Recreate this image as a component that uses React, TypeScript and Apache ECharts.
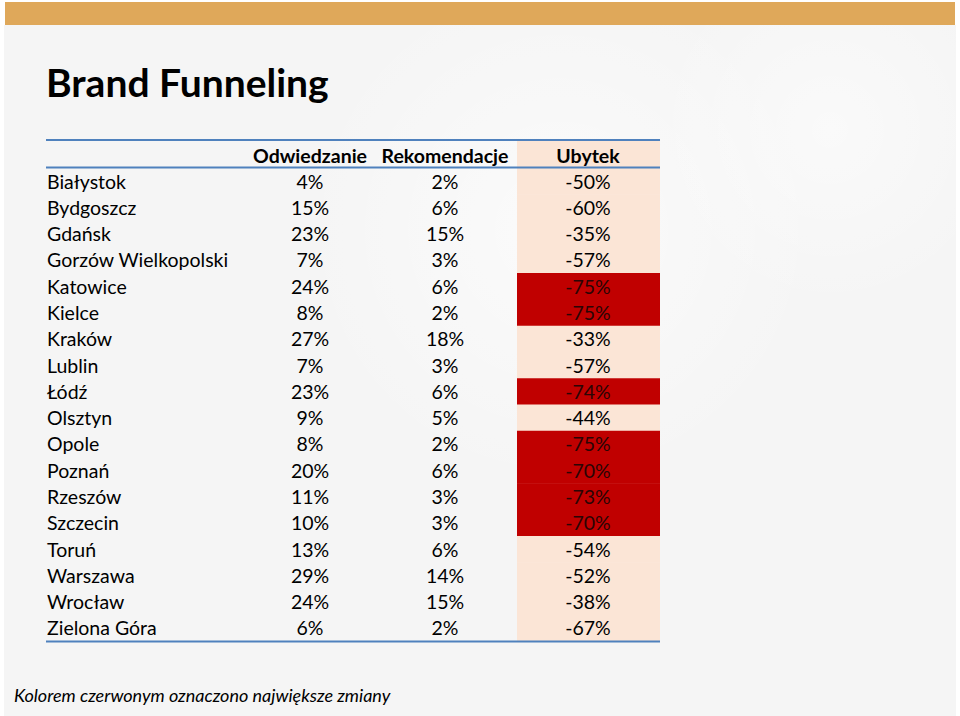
import React, { useEffect, useRef } from "react";
import * as echarts from "echarts";

const cities = [
  "Białystok", "Bydgoszcz", "Gdańsk", "Gorzów Wielkopolski", "Katowice", "Kielce",
  "Kraków", "Lublin", "Łódź", "Olsztyn", "Opole", "Poznań", "Rzeszów", "Szczecin",
  "Toruń", "Warszawa", "Wrocław", "Zielona Góra",
];
const odwiedzanie = [4, 15, 23, 7, 24, 8, 27, 7, 23, 9, 8, 20, 11, 10, 13, 29, 24, 6];
const rekomendacje = [2, 6, 15, 3, 6, 2, 18, 3, 6, 5, 2, 6, 3, 3, 6, 14, 15, 2];
const ubytek = [-50, -60, -35, -57, -75, -75, -33, -57, -74, -44, -75, -70, -73, -70, -54, -52, -38, -67];
const headers = ["Odwiedzanie", "Rekomendacje", "Ubytek"];
const highlightThreshold = -70;

const FONT = "Lato, 'Open Sans', sans-serif";

export default function App() {
  const ref = useRef<HTMLDivElement>(null);
  useEffect(() => {
    const chart = echarts.init(ref.current!, null, { renderer: "svg" });
    const COL_ODW = 310 - 46;
    const COL_REK = 445 - 46;
    const UB_X0 = 517 - 46;
    const UB_X1 = 660 - 46;
    const COL_UB = 588 - 46;
    const data = cities.map((c, i) => [i, odwiedzanie[i], rekomendacje[i], ubytek[i]]);
    chart.setOption({
      animation: false,
      backgroundColor: "#ffffff",
      grid: { left: 46, right: 300, top: 168, bottom: 75 },
      xAxis: { type: "value", min: 0, max: 1, show: false },
      yAxis: { type: "category", data: cities, inverse: true, show: false },
      graphic: [
        { type: "rect", shape: { x: 4, y: 25, width: 952, height: 691 }, style: { fill: "#f5f5f5" }, z: -10 },
        { type: "circle", shape: { cx: 560, cy: 230, r: 260 }, style: { fill: { type: "radial", x: 0.5, y: 0.5, r: 0.5, colorStops: [{ offset: 0, color: "rgba(255,255,255,0.6)" }, { offset: 1, color: "rgba(255,255,255,0)" }] } }, z: -9 },
        { type: "circle", shape: { cx: 830, cy: 130, r: 180 }, style: { fill: { type: "radial", x: 0.5, y: 0.5, r: 0.5, colorStops: [{ offset: 0, color: "rgba(255,255,255,0.5)" }, { offset: 1, color: "rgba(255,255,255,0)" }] } }, z: -9 },
        { type: "rect", shape: { x: 5, y: 2, width: 950, height: 23 }, style: { fill: "#dfa85a" }, z: -5 },
        { type: "text", x: 46, y: 82, style: { text: "Brand Funneling", font: `bold 39px ${FONT}`, fill: "#000", textVerticalAlign: "middle" } },
        { type: "rect", shape: { x: 517, y: 141, width: 143, height: 27 }, style: { fill: "#fbe5d6" }, z: 1 },
        { type: "text", x: 310, y: 155, style: { text: headers[0], font: `bold 19.5px ${FONT}`, fill: "#000", textAlign: "center", textVerticalAlign: "middle" }, z: 5 },
        { type: "text", x: 445, y: 155, style: { text: headers[1], font: `bold 19.5px ${FONT}`, fill: "#000", textAlign: "center", textVerticalAlign: "middle" }, z: 5 },
        { type: "text", x: 588, y: 155, style: { text: headers[2], font: `bold 19.5px ${FONT}`, fill: "#000", textAlign: "center", textVerticalAlign: "middle" }, z: 5 },
        { type: "line", shape: { x1: 46, y1: 140, x2: 660, y2: 140 }, style: { stroke: "#4f81bd", lineWidth: 2 }, z: 6 },
        { type: "line", shape: { x1: 46, y1: 167.5, x2: 660, y2: 167.5 }, style: { stroke: "#4f81bd", lineWidth: 2 }, z: 6 },
        { type: "line", shape: { x1: 46, y1: 641.5, x2: 660, y2: 641.5 }, style: { stroke: "#4f81bd", lineWidth: 2 }, z: 6 },
        { type: "text", x: 14, y: 695, style: { text: "Kolorem czerwonym oznaczono największe zmiany", font: `italic 18px ${FONT}`, fill: "#000", textVerticalAlign: "middle" } },
      ],
      series: [
        {
          type: "custom",
          data,
          renderItem: (params: any, api: any) => {
            const row = api.value(0);
            const pt = api.coord([0, row]);
            const h = api.size([0, 1])[1];
            const x0 = params.coordSys.x;
            const y = pt[1];
            const ub = api.value(3);
            const red = ub <= highlightThreshold;
            const txt = (x: number, t: string, align: string, fill = "#000") => ({
              type: "text",
              x,
              y,
              style: { text: t, font: `19.5px ${FONT}`, fill, textAlign: align, textVerticalAlign: "middle" },
              z2: 5,
            });
            return {
              type: "group",
              children: [
                {
                  type: "rect",
                  shape: { x: x0 + UB_X0, y: y - h / 2, width: UB_X1 - UB_X0, height: h + 0.5 },
                  style: { fill: red ? "#c00000" : "#fbe5d6" },
                  z2: 1,
                },
                txt(x0 + 1, cities[row], "left"),
                txt(x0 + COL_ODW, api.value(1) + "%", "center"),
                txt(x0 + COL_REK, api.value(2) + "%", "center"),
                txt(x0 + COL_UB, ub + "%", "center", red ? "#2a0505" : "#000"),
              ],
            };
          },
        },
      ],
    });
    return () => chart.dispose();
  }, []);
  return <div ref={ref} style={{ width: 960, height: 716, position: "absolute", left: 0, top: 0 }} />;
}
